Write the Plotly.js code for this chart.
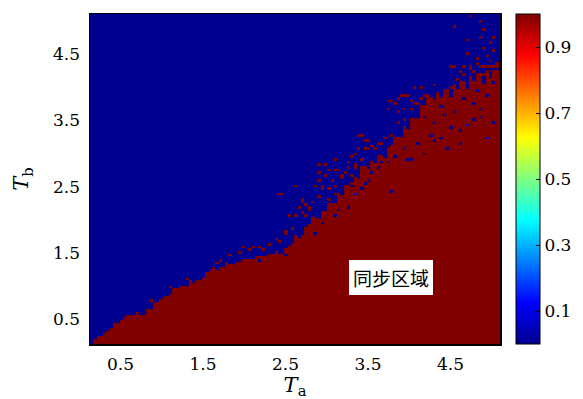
<!DOCTYPE html>
<html><head><meta charset="utf-8">
<script src="https://cdn.plot.ly/plotly-3.0.1.min.js"></script>
<style>html,body{margin:0;padding:0;background:#fff}#chart{width:583px;height:399px}</style>
</head><body><div id="chart"></div>
<script>
// Upper edge of the (mostly) red synchronous region, read per Ta column
const edgeTa = [0.1,0.15,0.2,0.25,0.3,0.35,0.4,0.45,0.5,0.55,0.6,0.65,0.7,0.75,0.8,0.85,0.9,0.95,1.0,1.05,1.1,1.15,1.2,1.25,1.3,1.35,1.4,1.45,1.5,1.55,1.6,1.65,1.7,1.75,1.8,1.85,1.9,1.95,2.0,2.05,2.1,2.15,2.2,2.25,2.3,2.35,2.4,2.45,2.5,2.55,2.6,2.65,2.7,2.75,2.8,2.85,2.9,2.95,3.0,3.05,3.1,3.15,3.2,3.25,3.3,3.35,3.4,3.45,3.5,3.55,3.6,3.65,3.7,3.75,3.8,3.85,3.9,3.95,4.0,4.05,4.1,4.15,4.2,4.25,4.3,4.35,4.4,4.45,4.5,4.55,4.6,4.65,4.7,4.75,4.8,4.85,4.9,4.95,5.0,5.05,5.1];
const edgeTb = [0.10,0.14,0.20,0.23,0.28,0.33,0.38,0.44,0.50,0.52,0.55,0.56,0.57,0.58,0.58,0.66,0.72,0.78,0.82,0.86,0.90,0.94,0.96,0.99,1.02,1.04,1.06,1.08,1.12,1.16,1.20,1.23,1.27,1.29,1.30,1.33,1.35,1.38,1.40,1.41,1.42,1.44,1.45,1.46,1.48,1.50,1.52,1.50,1.56,1.62,1.64,1.74,1.78,1.90,1.92,2.03,2.01,2.12,2.13,2.25,2.26,2.40,2.38,2.52,2.50,2.66,2.62,2.80,2.76,2.90,2.84,2.98,2.92,3.10,3.12,3.26,3.24,3.40,3.38,3.54,3.52,3.72,3.70,3.86,3.80,3.92,3.86,3.98,3.90,4.04,3.96,4.08,4.00,4.14,4.08,4.22,4.06,4.24,4.12,4.26,4.14];
// isolated synchronous cells above the edge
const speckTa = [0.87,0.89,1.11,1.16,1.32,1.36,1.40,1.46,1.54,1.58,1.62,1.68,1.72,1.78,0.71,
  2.44,2.63,2.69,2.70,2.75,2.79,2.55,2.61,2.49,2.53,2.57,2.63,2.37,2.41,2.29,2.17,2.21,2.11,2.00,2.05,1.93,1.84,1.80,
  2.45,2.64,2.92,2.98,3.09,2.90,2.92,3.02,3.12,3.06,3.18,3.22,3.28,3.36,3.38,3.44,3.52,3.56,3.64,3.72,3.74,3.40,3.48,3.60,
  2.96,3.04,3.12,2.92,3.02,3.10,2.69,2.73,2.65,2.55,2.61,2.79,2.84,3.26,3.32,3.34,3.30,
  2.90,2.98,3.04,3.14,3.20,3.28,3.34,2.86,2.94,3.24,3.36,3.42,3.32,
  3.46,3.50,3.66,3.72,3.80,3.86,3.95,4.11,4.21,
  3.76,3.82,3.85,3.91,3.99,3.93,4.03,4.11,4.19,4.27,4.37,4.45,4.55,4.23,4.35,4.45,4.51,4.07,4.13,4.33,4.57,4.63,
  3.78,3.88,3.95,4.01,4.07,4.13,4.19,4.25,
  4.67,4.75,4.84,4.92,5.00,5.06,
  4.61,4.67,4.75,4.81,4.92,5.02,4.49,4.55,4.76,4.86,4.94,5.05,
  4.82,4.96,5.00,5.06,4.69,4.92,4.98,5.04,4.69,4.88,5.04,4.56,4.86,4.73,4.90];
const speckTb = [0.80,0.75,0.98,0.94,1.10,1.08,0.95,0.97,1.20,1.23,1.25,1.35,1.38,1.30,0.60,
  2.40,2.53,2.28,2.10,2.05,2.13,2.08,2.05,1.83,1.80,1.85,1.75,1.70,1.68,1.63,1.60,1.55,1.58,1.58,1.53,1.50,1.45,1.35,
  2.40,2.53,2.83,2.83,2.90,2.71,2.60,2.73,2.73,2.60,2.63,2.71,2.86,3.00,3.26,3.26,3.18,3.11,3.16,3.21,3.66,3.06,3.06,3.06,
  2.48,2.45,2.50,2.35,2.30,2.38,2.30,2.23,2.18,2.08,2.05,2.20,2.28,2.45,2.55,2.78,2.68,
  2.70,2.65,2.73,2.75,2.68,2.78,2.83,2.50,2.53,2.40,2.98,2.91,2.93,
  3.18,3.08,3.13,3.23,3.28,3.48,3.51,3.41,3.48,
  3.77,3.75,3.62,3.87,3.85,3.67,3.65,3.75,3.70,3.77,3.72,3.80,3.67,3.87,3.90,3.95,3.97,4.00,3.97,4.02,4.12,4.07,
  3.78,3.81,3.85,3.78,3.76,3.81,3.86,3.86,
  4.32,4.28,4.35,4.31,4.33,4.30,
  4.25,4.20,4.17,4.22,4.20,4.17,4.32,4.31,4.32,4.32,4.30,4.30,
  4.42,4.45,4.40,4.37,4.52,4.60,4.65,4.55,4.70,4.75,4.75,4.93,4.98,5.09,4.89];
// unsynchronous cells inside the red region
const holeTa = [4.19,4.31,4.43,4.55,4.27,4.39,4.11,3.95,3.83,3.74,4.03,4.19,4.51,4.71,4.79,4.88,4.96,4.63,3.80,
  3.42,3.48,3.56,3.62,3.68,3.97,4.33,4.45,4.61,4.89,5.02,4.80,4.95,4.40,4.65,4.85,5.05,4.52,4.72,
  2.95,3.10,3.25,2.85,2.50,2.20,3.15,3.35,3.50];
const holeTb = [3.56,3.46,3.58,3.61,3.28,3.21,3.13,3.06,2.96,2.86,2.91,3.00,3.38,3.41,3.51,3.56,3.23,3.16,2.43,
  2.45,2.55,2.70,2.78,2.85,2.90,3.20,3.05,3.36,3.66,3.46,3.75,3.85,3.70,3.82,3.95,4.05,3.88,3.98,
  1.95,2.05,2.20,1.80,1.45,1.38,2.15,2.40,2.60];

const tickVals = [0.5,1.5,2.5,3.5,4.5];
const tickText = ['0.5','1.5','2.5','3.5','4.5'];
const cbVals = [0.1,0.3,0.5,0.7,0.9];
const cbText = ['0.1','0.3','0.5','0.7','0.9'];
const cbMinor = [0.2,0.4,0.6,0.8];
const labelText = '同步区域';

// grid of cells
const step = 0.04, start = 0.15, n = 125;
const xs = [], ys = [];
for (let i = 0; i < n; i++) { xs.push(+(start + i*step).toFixed(3)); ys.push(+(start + i*step).toFixed(3)); }
function nearestEdge(ta) {
  let best = 0, bd = 1e9;
  for (let k = 0; k < edgeTa.length; k++) { const d = Math.abs(edgeTa[k]-ta); if (d < bd) { bd = d; best = k; } }
  return edgeTb[best];
}
const z = ys.map(tb => xs.map(ta => (tb <= nearestEdge(ta) ? 1 : 0)));
function cell(v) { return Math.min(n-1, Math.max(0, Math.round((v - start)/step))); }
speckTa.forEach((ta, i) => { z[cell(speckTb[i])][cell(ta)] = 1; });
holeTa.forEach((ta, i) => { z[cell(holeTb[i])][cell(ta)] = 0; });

const jet = [[0,'#00008F'],[0.125,'#0000FF'],[0.375,'#00FFFF'],[0.625,'#FFFF00'],[0.875,'#FF0000'],[1,'#800000']];
const serif = 'DejaVu Serif';
const cbX = 1.039, cbW = 24 / 410;
const minorShapes = cbMinor.map(v => ({type: 'line', xref: 'paper', yref: 'paper',
  x0: cbX + cbW - 4/410, x1: cbX + cbW, y0: v, y1: v, line: {color: '#000', width: 1}}));

Plotly.newPlot('chart', [{
  type: 'heatmap', x: xs, y: ys, z: z, zmin: 0, zmax: 1, zsmooth: false,
  colorscale: jet, hoverinfo: 'skip',
  colorbar: {
    x: cbX, xanchor: 'left', xpad: 0, ypad: 0, y: 0.5, yanchor: 'middle', len: 1,
    thickness: 24, outlinecolor: '#000', outlinewidth: 1,
    tickmode: 'array', tickvals: cbVals, ticktext: cbText,
    ticks: 'inside', ticklen: 4, tickcolor: '#000', ticklabelstandoff: 4,
    tickfont: {family: serif, size: 17, color: '#000'}
  }
}], {
  width: 583, height: 399,
  margin: {l: 90, r: 83, t: 14, b: 55, autoexpand: false},
  paper_bgcolor: '#fff', plot_bgcolor: '#fff',
  shapes: minorShapes,
  xaxis: {range: [0.13, 5.1], tickmode: 'array', tickvals: tickVals, ticktext: tickText,
    ticks: '', showgrid: false, zeroline: false, showline: true, mirror: true, linecolor: '#000', linewidth: 1.5,
    ticklabelstandoff: 4, automargin: false,
    tickfont: {family: serif, size: 17, color: '#000'},
    title: {text: '<i>T</i><sub>a</sub>', font: {family: serif, size: 21, color: '#000'}, standoff: 12}},
  yaxis: {range: [0.13, 5.1], tickmode: 'array', tickvals: tickVals, ticktext: tickText,
    ticks: '', showgrid: false, zeroline: false, showline: true, mirror: true, linecolor: '#000', linewidth: 1.5,
    ticklabelstandoff: 5, automargin: false,
    tickfont: {family: serif, size: 17, color: '#000'},
    title: {text: '<i>T</i><sub>b</sub>', font: {family: serif, size: 21, color: '#000'}, standoff: 18}},
  annotations: [{x: 3.78, y: 1.13, xref: 'x', yref: 'y', text: labelText, showarrow: false,
    font: {family: 'Noto Sans CJK SC', size: 19, color: '#000'}, bgcolor: '#fff', borderpad: 4, borderwidth: 0}]
}, {staticPlot: true});
</script></body></html>
